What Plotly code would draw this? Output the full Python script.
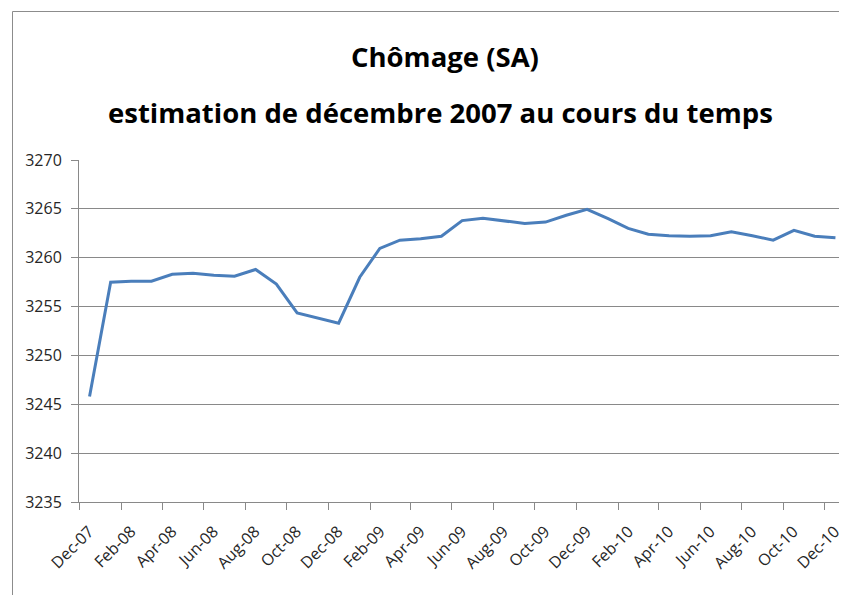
import plotly.graph_objects as go

months = ["2007-12", "2008-01", "2008-02", "2008-03", "2008-04", "2008-05", "2008-06",
          "2008-07", "2008-08", "2008-09", "2008-10", "2008-11", "2008-12",
          "2009-01", "2009-02", "2009-03", "2009-04", "2009-05", "2009-06",
          "2009-07", "2009-08", "2009-09", "2009-10", "2009-11", "2009-12",
          "2010-01", "2010-02", "2010-03", "2010-04", "2010-05", "2010-06",
          "2010-07", "2010-08", "2010-09", "2010-10", "2010-11", "2010-12"]
chomage = [3245.8, 3257.5, 3257.6, 3257.6, 3258.3, 3258.4, 3258.2,
           3258.1, 3258.8, 3257.3, 3254.35, 3253.8, 3253.3,
           3258.0, 3260.95, 3261.8, 3261.95, 3262.2, 3263.8,
           3264.05, 3263.75, 3263.5, 3263.65, 3264.35, 3264.95,
           3264.0, 3263.0, 3262.4, 3262.25, 3262.2, 3262.25,
           3262.65, 3262.25, 3261.8, 3262.8, 3262.2, 3262.05]

title_line1 = "Chômage (SA)"
title_line2 = "estimation de décembre 2007 au cours du temps"

W, H = 847, 595
OFF = 8  # page body margin in the screenshot
ml, mr, mt, mb = 71, 9, 152, 101
pw, ph = W - ml - mr, H - mt - mb


def px(x):
    return (x - OFF - ml) / pw


def py(y):
    return 1 - (y - OFF - mt) / ph


fig = go.Figure()
fig.add_trace(go.Scatter(
    x=months, y=chomage, mode="lines",
    xperiod="M1", xperiodalignment="middle",
    line=dict(color="#4a7ebb", width=3),
    showlegend=False, hoverinfo="x+y",
))

grid = "#898989"
fig.update_layout(
    width=W, height=H,
    margin=dict(l=ml, r=mr, t=mt, b=mb),
    paper_bgcolor="white", plot_bgcolor="white",
    font=dict(family="Open Sans, DejaVu Sans, sans-serif", color="#262626"),
    xaxis=dict(
        type="date",
        range=["2007-12-01", "2011-01-01"],
        tick0="2007-12-01", dtick="M2", tickformat="%b-%y",
        tickangle=-45, ticks="outside", ticklen=7, tickcolor=grid,
        ticklabelshift=10, ticklabelstandoff=6,
        showgrid=False, showline=True, linecolor=grid, linewidth=1,
        tickfont=dict(size=16, family="Open Sans, sans-serif", color="#262626"),
        zeroline=False,
    ),
    yaxis=dict(
        range=[3235, 3270], dtick=5, tick0=3235,
        ticks="outside", ticklen=7, tickcolor=grid,
        ticklabelstandoff=6,
        showgrid=True, gridcolor=grid, gridwidth=1,
        showline=True, linecolor=grid, linewidth=1,
        tickfont=dict(size=16, family="Open Sans, sans-serif", color="#262626"),
        zeroline=False,
    ),
)

fig.add_annotation(text=title_line1, xref="paper", yref="paper",
                   x=px(445), y=py(57), showarrow=False,
                   xanchor="center", yanchor="middle",
                   font=dict(size=27.5, family="Open Sans, sans-serif", color="#000000", weight="bold"))
fig.add_annotation(text=title_line2, xref="paper", yref="paper",
                   x=px(440), y=py(112), showarrow=False,
                   xanchor="center", yanchor="middle",
                   font=dict(size=27.5, family="Open Sans, sans-serif", color="#000000", weight="bold"))

# chart-area border (left and top edges visible)
fig.add_shape(type="rect", xref="paper", yref="paper",
              x0=px(12.5), x1=px(950), y0=py(700), y1=py(11.5),
              line=dict(color="#8c8c8c", width=1), fillcolor="rgba(0,0,0,0)", layer="below")

fig.write_html("out.html")
